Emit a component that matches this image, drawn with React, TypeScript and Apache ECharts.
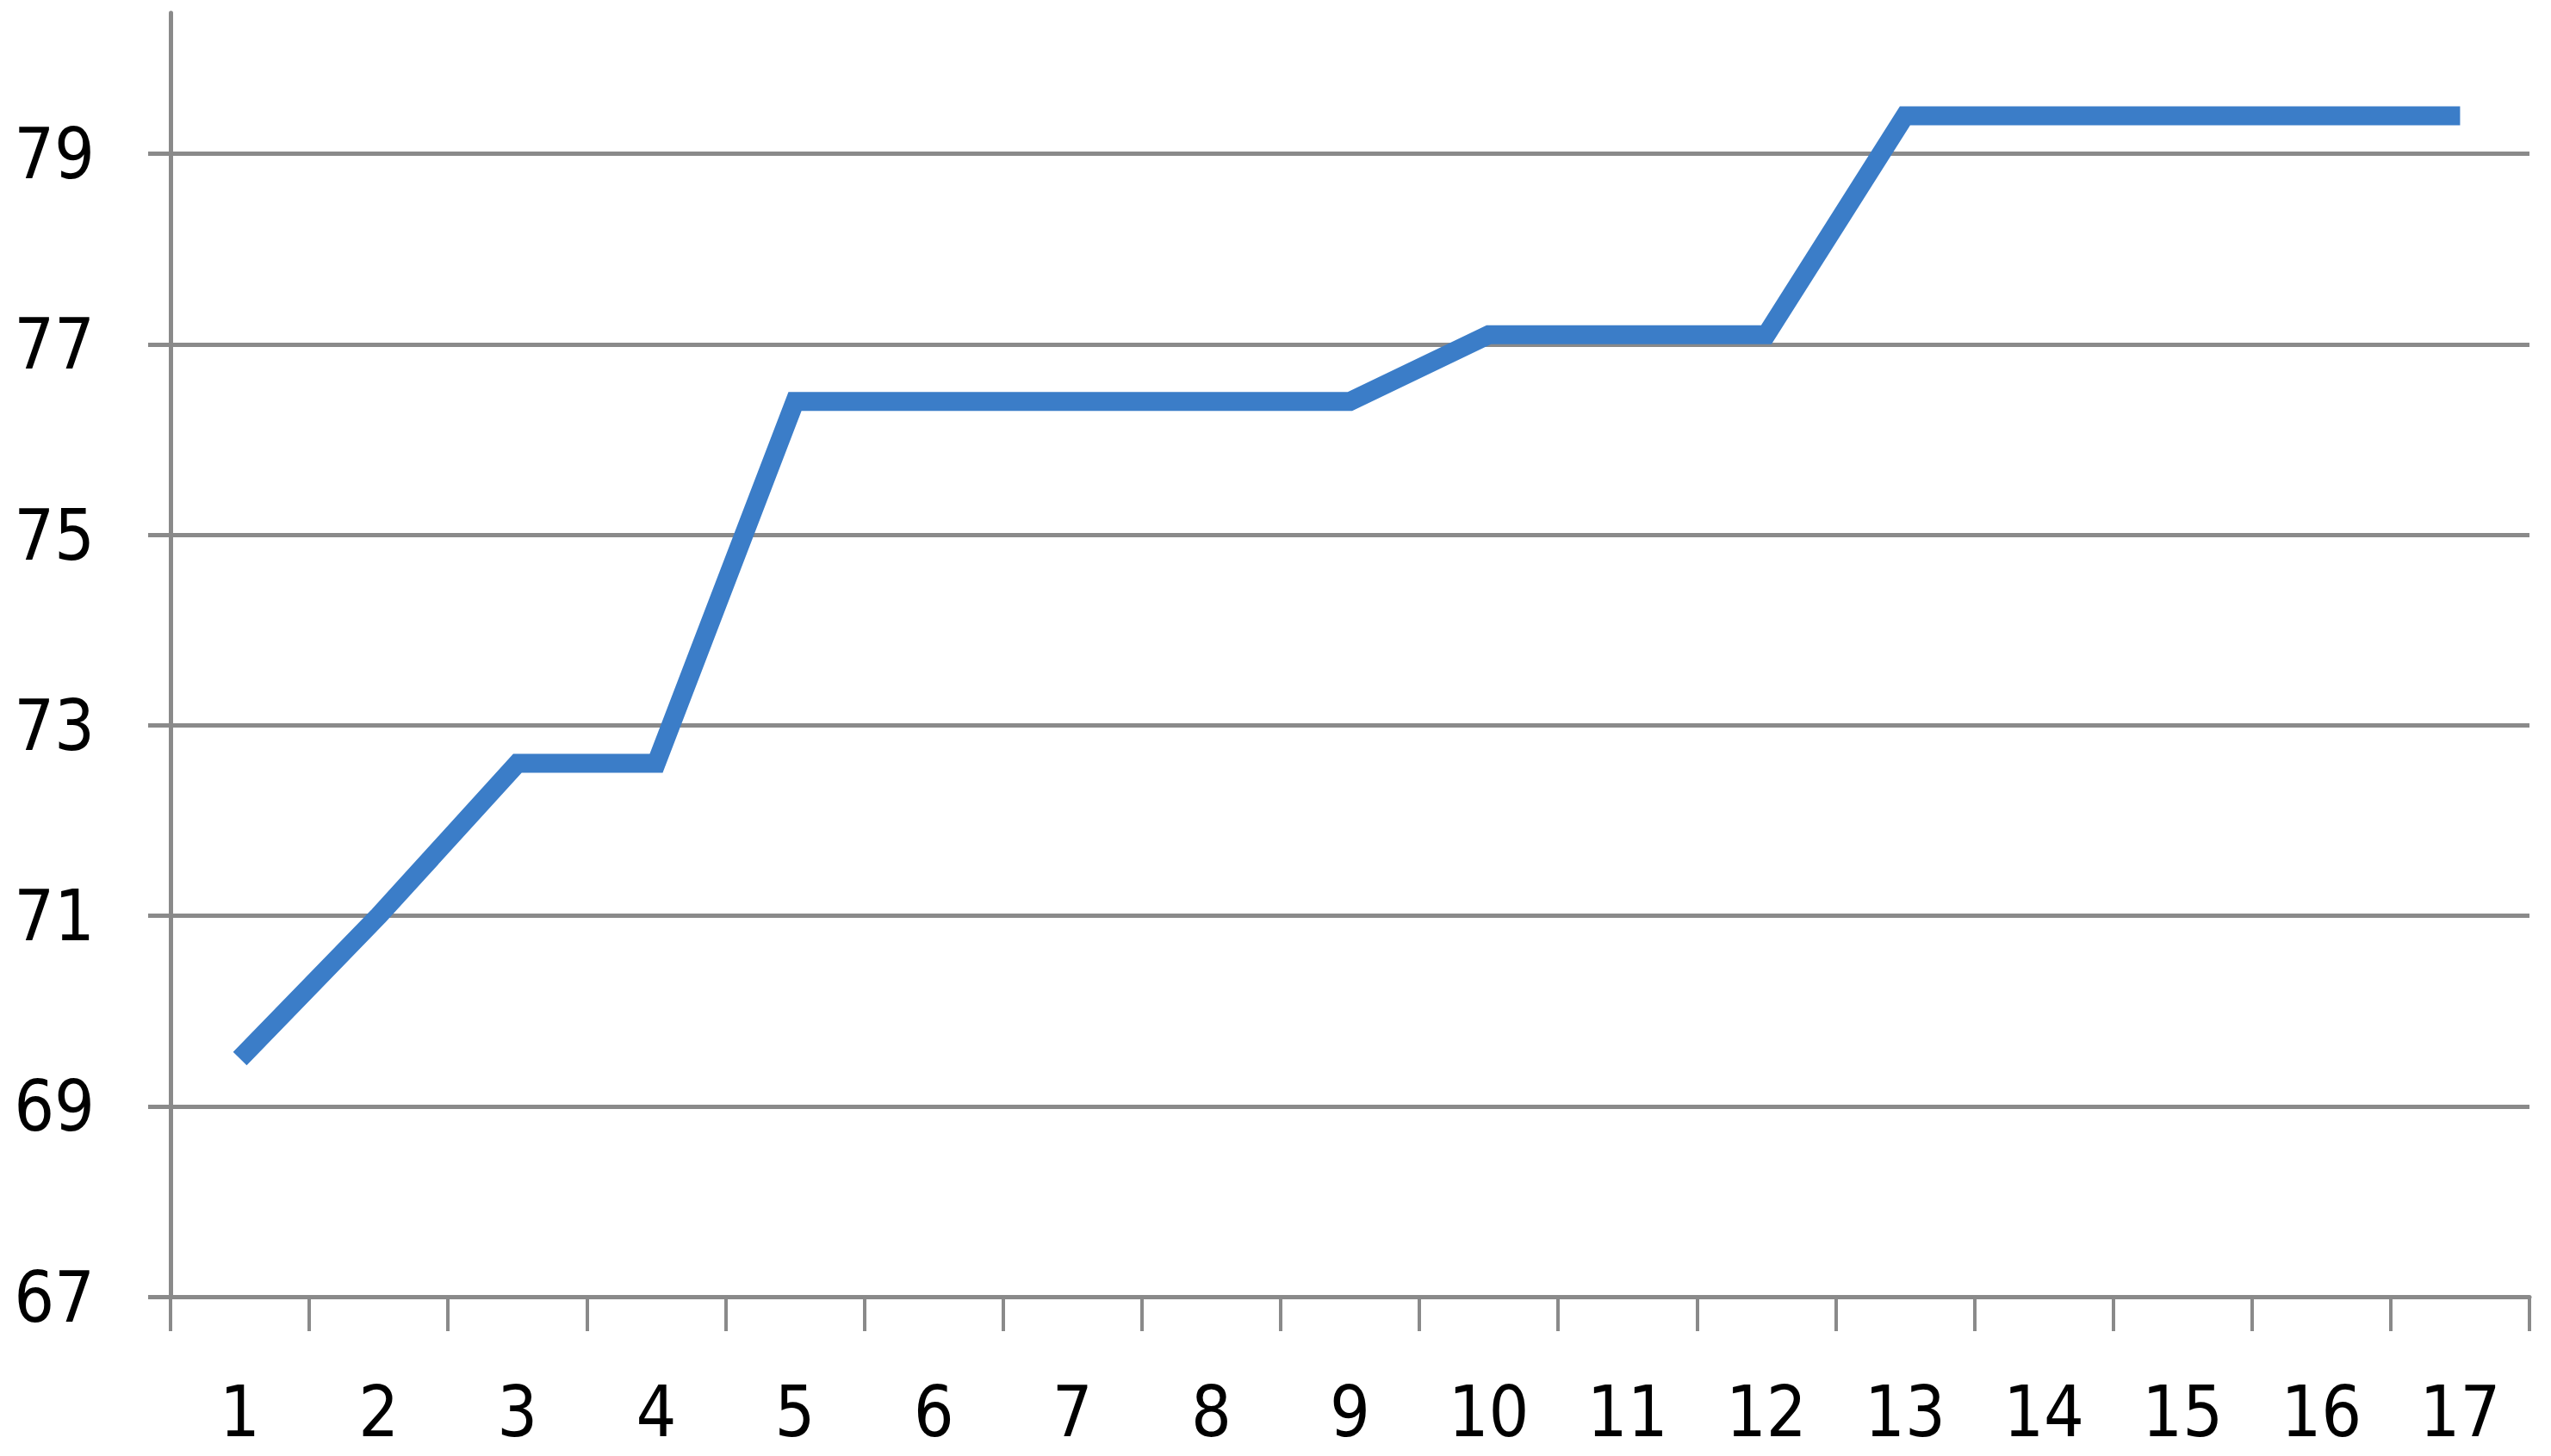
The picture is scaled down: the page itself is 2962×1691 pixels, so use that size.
import React, { useEffect, useRef } from "react";
import * as echarts from "echarts";

const categories = ["1", "2", "3", "4", "5", "6", "7", "8", "9", "10", "11", "12", "13", "14", "15", "16", "17"];
const values = [69.5, 71.0, 72.6, 72.6, 76.4, 76.4, 76.4, 76.4, 76.4, 77.1, 77.1, 77.1, 79.4, 79.4, 79.4, 79.4, 79.4];
const yTicks = [67, 69, 71, 73, 75, 77, 79];

export default function App() {
  const ref = useRef<HTMLDivElement>(null);
  useEffect(() => {
    if (!ref.current) return;
    const chart = echarts.init(ref.current, undefined, { renderer: "svg" });
    const font = "'DejaVu Sans Condensed', 'Liberation Sans', sans-serif";
    const gray = "#8a8a8a";
    chart.setOption({
      animation: false,
      backgroundColor: "#ffffff",
      grid: { left: 198, right: 25, top: 15, bottom: 185, containLabel: false },
      xAxis: {
        type: "category",
        data: categories,
        boundaryGap: true,
        axisLine: { show: true, lineStyle: { color: gray, width: 5 } },
        axisTick: { show: true, length: 40, lineStyle: { color: gray, width: 4 } },
        axisLabel: { color: "#000", fontSize: 82, fontFamily: font, margin: 92 },
        splitLine: { show: false },
      },
      yAxis: {
        type: "value",
        min: 67,
        max: 80.48,
        interval: 2,
        axisLine: { show: true, lineStyle: { color: gray, width: 5 } },
        axisTick: { show: true, length: 26, customValues: yTicks, lineStyle: { color: gray, width: 5 } },
        axisLabel: { color: "#000", fontSize: 82, fontFamily: font, margin: 88, customValues: yTicks },
        splitLine: { show: true, lineStyle: { color: gray, width: 5 } },
      },
      series: [
        {
          type: "line",
          data: values,
          showSymbol: false,
          symbol: "none",
          lineStyle: { color: "#3B7DC8", width: 22, join: "miter", cap: "butt" },
        },
      ],
    });
    return () => chart.dispose();
  }, []);
  return (
    <div
      ref={ref}
      style={{ position: "absolute", left: 0, top: 0, width: 2962, height: 1691, background: "#fff" }}
    />
  );
}
